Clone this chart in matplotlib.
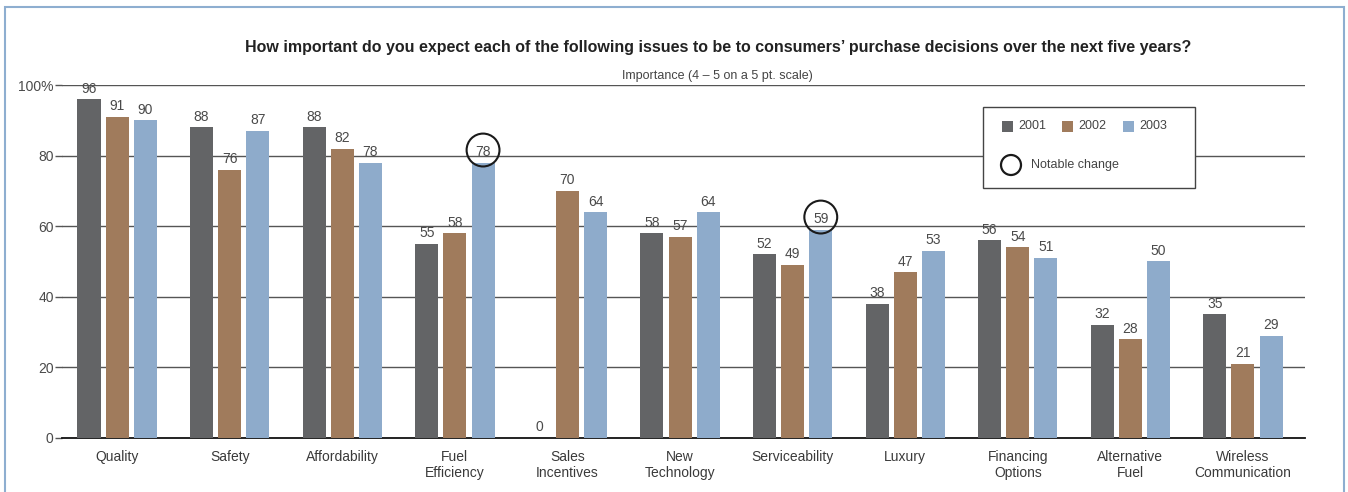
import matplotlib.pyplot as plt
import numpy as np
from matplotlib.patches import Rectangle, Ellipse

categories = ["Quality", "Safety", "Affordability", "Fuel\nEfficiency", "Sales\nIncentives",
              "New\nTechnology", "Serviceability", "Luxury", "Financing\nOptions",
              "Alternative\nFuel", "Wireless\nCommunication"]
years = ["2001", "2002", "2003"]
v2001 = [96, 88, 88, 55, 0, 58, 52, 38, 56, 32, 35]
v2002 = [91, 76, 82, 58, 70, 57, 49, 47, 54, 28, 21]
v2003 = [90, 87, 78, 78, 64, 64, 59, 53, 51, 50, 29]
# (category index, year index) of circled values
notable = [(3, 2), (6, 2)]

colors = ["#636466", "#a07b5c", "#8eabcb"]
plt.rcParams['font.family'] = ['Liberation Sans', 'DejaVu Sans']

fig = plt.figure(figsize=(13.48, 4.92), dpi=100)
ax = fig.add_axes([0.046, 0.110, 0.922, 0.717])

x = np.arange(len(categories))
series = [v2001, v2002, v2003]
w = 0.205
off = 0.25
for i, vals in enumerate(series):
    xs = x + (i - 1) * off
    ax.bar(xs, vals, width=w, color=colors[i], zorder=3)
    for xi, v in zip(xs, vals):
        ax.text(xi, v + 1.0, str(v), ha='center', va='bottom', fontsize=10, color='#4a4a4a', zorder=4)

for ci, yi in notable:
    v = series[yi][ci]
    ax.scatter([x[ci] + (yi - 1) * off], [v + 3.6], s=560, facecolors='none',
               edgecolors='#1a1a1a', linewidths=1.5, zorder=5, clip_on=False)

ax.set_xlim(-0.49, len(categories) - 0.45)
ax.set_ylim(0, 100)
ax.set_yticks([0, 20, 40, 60, 80, 100])
ax.set_yticklabels(["0", "20", "40", "60", "80", "100%"], fontsize=10, color='#4a4a4a')
ax.set_xticks(x)
ax.set_xticklabels(categories, fontsize=10, color='#3a3a3a', linespacing=1.15)
ax.tick_params(axis='x', length=0, pad=9)
ax.tick_params(axis='y', length=5, width=1, color='#555555', pad=1)
for s in ['top', 'right', 'left']:
    ax.spines[s].set_visible(False)
ax.spines['bottom'].set_color('#111111')
ax.spines['bottom'].set_linewidth(1.3)
for g in [20, 40, 60, 80, 100]:
    ax.axhline(g, color='#555555', lw=1, zorder=1)

fig.text(0.533, 0.903, "How important do you expect each of the following issues to be to consumers\u2019 purchase decisions over the next five years?",
         ha='center', va='center', fontsize=11.5, fontweight='bold', color='#222222')
fig.text(0.532, 0.845, "Importance (4 \u2013 5 on a 5 pt. scale)", ha='center', va='center',
         fontsize=9, color='#444444')

# legend box
lx0, ly0, lx1, ly1 = 983 / 1348, 1 - 188 / 492, 1195 / 1348, 1 - 107 / 492
fig.patches.append(Rectangle((lx0, ly0), lx1 - lx0, ly1 - ly0, transform=fig.transFigure,
                             facecolor='white', edgecolor='#444444', lw=1, zorder=10))
sq = 11 / 1348
sqh = 11 / 492
ly = 1 - 126 / 492
for i, (lab, px) in enumerate(zip(years, [1002, 1062, 1123])):
    fig.patches.append(Rectangle((px / 1348, ly - sqh / 2), sq, sqh, transform=fig.transFigure,
                                 facecolor=colors[i], edgecolor='none', zorder=11))
    fig.text((px + 16) / 1348, ly, lab, ha='left', va='center', fontsize=9, color='#444444', zorder=12)
fig.patches.append(Ellipse((1011 / 1348, 1 - 165 / 492), 20 / 1348, 20 / 492, transform=fig.transFigure,
                           facecolor='none', edgecolor='#1a1a1a', lw=1.6, zorder=12))
fig.text(1031 / 1348, 1 - 165 / 492, "Notable change", ha='left', va='center', fontsize=9,
         color='#444444', zorder=12)

# outer frame
fig.patches.append(Rectangle((5 / 1348, -0.02), 1339 / 1348, 1 - 7 / 492 + 0.02, transform=fig.transFigure,
                             facecolor='none', edgecolor='#8eaed0', lw=1.5))

fig.savefig("out.png", dpi=100)
